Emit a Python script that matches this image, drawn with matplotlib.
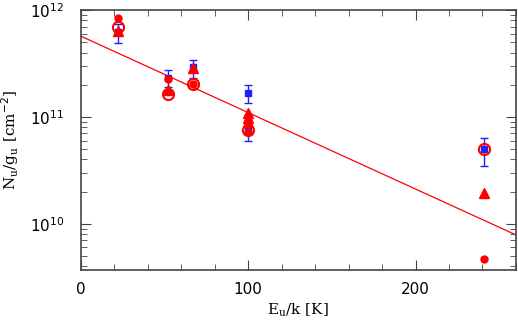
import numpy as np
import matplotlib.pyplot as plt
from matplotlib.ticker import MultipleLocator, LogLocator, NullFormatter

# blue squares with error bars
sq_x = [22, 52, 67, 100, 100, 241]
sq_y = [6.2e11, 2.3e11, 2.9e11, 1.68e11, 7.5e10, 5.0e10]
sq_lo = [4.9e11, 1.9e11, 2.3e11, 1.36e11, 6.0e10, 3.5e10]
sq_hi = [7.4e11, 2.75e11, 3.4e11, 2.0e11, 9.0e10, 6.3e10]

# red filled circles
fc_x = [22, 52, 67, 100, 241]
fc_y = [8.5e11, 2.25e11, 2.05e11, 7.3e10, 4.7e9]

# red open circles
oc_x = [22, 52, 67, 100, 241]
oc_y = [6.9e11, 1.65e11, 2.02e11, 7.6e10, 5.0e10]

# red triangles
tr_x = [22, 52, 67, 100, 100, 100, 241]
tr_y = [6.3e11, 1.78e11, 2.85e11, 1.08e11, 9.8e10, 8.9e10, 1.95e10]

# rotational diagram fit
fit_N0 = 5.7e11
fit_T = 60.7

fig = plt.figure(figsize=(5.18, 3.24), dpi=100)
ax = fig.add_axes([0.156, 0.167, 0.84, 0.802])

yerr = [np.array(sq_y) - np.array(sq_lo), np.array(sq_hi) - np.array(sq_y)]
ax.errorbar(sq_x, sq_y, yerr=yerr, fmt='s', color='#2020ff', ms=5, capsize=3,
            elinewidth=1, capthick=1, zorder=2)

xf = np.array([0, 260])
ax.plot(xf, fit_N0 * np.exp(-xf / fit_T), color='red', lw=0.9, zorder=1)

ax.plot(oc_x, oc_y, 'o', mfc='none', mec='red', mew=1.5, ms=8, zorder=3)
ax.plot(tr_x, tr_y, '^', color='red', ms=7, zorder=4)
ax.plot(fc_x, fc_y, 'o', color='red', ms=5, zorder=5)

ax.set_yscale('log')
ax.set_xlim(0, 260)
ax.set_ylim(3.7e9, 1e12)

ax.xaxis.set_major_locator(MultipleLocator(100))
ax.xaxis.set_minor_locator(MultipleLocator(20))
ax.yaxis.set_major_locator(LogLocator(base=10))
ax.yaxis.set_minor_locator(LogLocator(base=10, subs=np.arange(2, 10)))
ax.yaxis.set_minor_formatter(NullFormatter())

ax.tick_params(which='both', direction='in', top=True, right=True, color='#444444')
ax.tick_params(which='major', length=7, labelsize=11)
ax.tick_params(axis='x', which='major', pad=9)
ax.tick_params(axis='y', which='major', pad=12)
ax.tick_params(which='minor', length=4)
for s in ax.spines.values():
    s.set_color('#444444')
    s.set_linewidth(1.2)

ax.set_xlabel(r'E$_\mathregular{u}$/k [K]', family='DejaVu Serif', fontsize=11, labelpad=3)
ax.set_ylabel(r'N$_\mathregular{u}$/g$_\mathregular{u}$ [cm$^{-2}$]', family='DejaVu Serif',
              fontsize=11, labelpad=6)

fig.savefig('out.png', dpi=100)
